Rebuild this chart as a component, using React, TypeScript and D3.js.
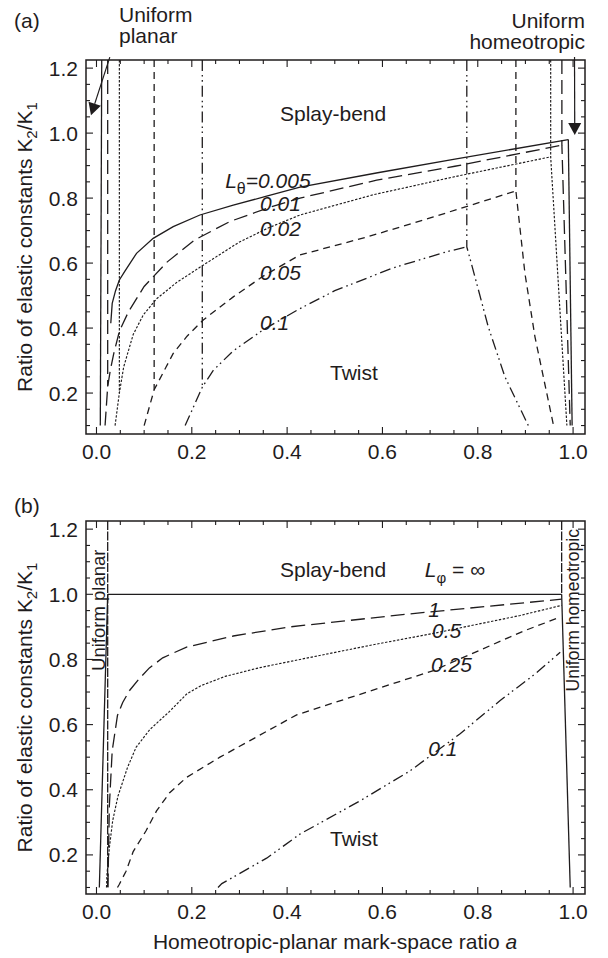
import React from "react";
import * as d3 from "d3";

type Pt = [number, number];

// ---------- panel (a): L_theta families ----------
// L = 0.005 (solid)
const A_005_CURVE: Pt[] = [[0.030, 0.415], [0.033, 0.476], [0.040, 0.515], [0.048, 0.548], [0.060, 0.576], [0.084, 0.630], [0.119, 0.676], [0.161, 0.712], [0.217, 0.748], [0.287, 0.778], [0.357, 0.806], [0.427, 0.834], [0.590, 0.878], [0.752, 0.920], [0.990, 0.980]];
const A_005_LEFT: Pt[] = [[0.011, 1.225], [0.008, 0.1]];
const A_005_RIGHT: Pt[] = [[0.990, 0.980], [0.998, 0.1]];
// L = 0.01 (long dash)
const A_01_CURVE: Pt[] = [[0.018, 0.1], [0.0235, 0.22], [0.029, 0.27], [0.036, 0.32], [0.048, 0.39], [0.067, 0.45], [0.100, 0.528], [0.148, 0.603], [0.207, 0.672], [0.280, 0.728], [0.364, 0.772], [0.427, 0.800], [0.588, 0.855], [0.752, 0.898], [0.9765, 0.963]];
const A_01_LEFT: Pt[] = [[0.0235, 1.225], [0.0235, 0.22]];
const A_01_RIGHT: Pt[] = [[0.9765, 1.225], [0.9765, 0.963], [0.994, 0.1]];
// L = 0.02 (dotted)
const A_02_CURVE: Pt[] = [[0.039, 0.1], [0.048, 0.2], [0.057, 0.28], [0.077, 0.38], [0.098, 0.44], [0.126, 0.49], [0.168, 0.54], [0.220, 0.59], [0.300, 0.665], [0.360, 0.708], [0.427, 0.748], [0.580, 0.810], [0.752, 0.866], [0.953, 0.927]];
const A_02_LEFT: Pt[] = [[0.048, 1.225], [0.048, 0.2]];
const A_02_RIGHT: Pt[] = [[0.953, 1.225], [0.953, 0.927], [0.987, 0.1]];
// L = 0.05 (medium dash)
const A_05_CURVE: Pt[] = [[0.100, 0.1], [0.121, 0.21], [0.146, 0.28], [0.161, 0.322], [0.190, 0.375], [0.224, 0.425], [0.287, 0.496], [0.350, 0.560], [0.427, 0.625], [0.567, 0.680], [0.707, 0.742], [0.880, 0.822]];
const A_05_LEFT: Pt[] = [[0.121, 1.225], [0.121, 0.21]];
const A_05_RIGHT: Pt[] = [[0.880, 1.225], [0.880, 0.822], [0.899, 0.568], [0.920, 0.373], [0.959, 0.1]];
// L = 0.1 (dash-dot-dot)
const A_1_CURVE: Pt[] = [[0.186, 0.1], [0.222, 0.218], [0.245, 0.27], [0.287, 0.33], [0.350, 0.395], [0.427, 0.460], [0.500, 0.515], [0.622, 0.585], [0.735, 0.635], [0.777, 0.650]];
const A_1_LEFT: Pt[] = [[0.222, 1.225], [0.222, 0.218]];
const A_1_RIGHT: Pt[] = [[0.777, 1.225], [0.777, 0.650], [0.794, 0.558], [0.822, 0.404], [0.857, 0.25], [0.906, 0.1]];

// ---------- panel (b): L_phi families ----------
const B_INF_CURVE: Pt[] = [[0.0235, 1.0], [0.976, 1.0]];
const B_INF_LEFT: Pt[] = [[0.0235, 1.0], [0.006, 0.1]];
const B_INF_RIGHT: Pt[] = [[0.976, 1.0], [0.994, 0.1]];
const B_LEFT_EDGE: Pt[] = [[0.0235, 1.225], [0.0235, 0.1]];
const B_RIGHT_EDGE: Pt[] = [[0.976, 1.225], [0.976, 1.0]];
const B_1_CURVE: Pt[] = [[0.024, 0.1], [0.027, 0.35], [0.033, 0.52], [0.044, 0.628], [0.055, 0.668], [0.069, 0.704], [0.088, 0.738], [0.111, 0.774], [0.139, 0.805], [0.189, 0.838], [0.287, 0.872], [0.406, 0.900], [0.658, 0.940], [0.976, 0.985]];
const B_05_CURVE: Pt[] = [[0.021, 0.1], [0.022, 0.14], [0.027, 0.222], [0.034, 0.305], [0.045, 0.38], [0.065, 0.468], [0.083, 0.53], [0.112, 0.585], [0.153, 0.64], [0.190, 0.695], [0.220, 0.72], [0.270, 0.748], [0.343, 0.775], [0.427, 0.800], [0.580, 0.845], [0.707, 0.880], [0.889, 0.935], [0.976, 0.966]];
const B_025_CURVE: Pt[] = [[0.044, 0.1], [0.048, 0.11], [0.062, 0.15], [0.077, 0.21], [0.104, 0.274], [0.126, 0.335], [0.153, 0.39], [0.189, 0.438], [0.259, 0.500], [0.322, 0.551], [0.420, 0.630], [0.707, 0.766], [0.896, 0.887], [0.973, 0.930]];
const B_01_CURVE: Pt[] = [[0.255, 0.1], [0.263, 0.112], [0.357, 0.19], [0.427, 0.264], [0.553, 0.366], [0.658, 0.458], [0.763, 0.572], [0.847, 0.674], [0.920, 0.755], [0.973, 0.822]];

// ---------- axes ----------
const X_DOMAIN: Pt = [-0.022, 1.025];
const Y_DOMAIN_A: Pt = [0.074, 1.225];
const Y_DOMAIN_B: Pt = [0.08, 1.225];
const X_TICK_LABELS = ["0.0", "0.2", "0.4", "0.6", "0.8", "1.0"];
const Y_TICK_LABELS = ["0.2", "0.4", "0.6", "0.8", "1.0", "1.2"];

const DASH: Record<string, string> = {
  solid: "none",
  long: "14,6",
  dot: "2.4,1.6",
  medium: "7,5",
  dashdot: "11,4,1.6,3.5,1.6,4",
  edge: "9,1.5",
};

const FONT = "'Liberation Sans', Arial, Helvetica, sans-serif";
const INK = "#1f1c1d";
const LEFT = 86;
const RIGHT = 585;

type Series = { dash: string; paths: Pt[][] };

const SERIES_A: Series[] = [
  { dash: "solid", paths: [A_005_CURVE, A_005_LEFT, A_005_RIGHT] },
  { dash: "long", paths: [A_01_CURVE, A_01_LEFT, A_01_RIGHT] },
  { dash: "dot", paths: [A_02_CURVE, A_02_LEFT, A_02_RIGHT] },
  { dash: "medium", paths: [A_05_CURVE, A_05_LEFT, A_05_RIGHT] },
  { dash: "dashdot", paths: [A_1_CURVE, A_1_LEFT, A_1_RIGHT] },
];

const SERIES_B: Series[] = [
  { dash: "edge", paths: [B_LEFT_EDGE, B_RIGHT_EDGE] },
  { dash: "solid", paths: [B_INF_CURVE, B_INF_LEFT, B_INF_RIGHT] },
  { dash: "long", paths: [B_1_CURVE] },
  { dash: "dot", paths: [B_05_CURVE] },
  { dash: "medium", paths: [B_025_CURVE] },
  { dash: "dashdot", paths: [B_01_CURVE] },
];

function Arrow({ x1, y1, x2, y2 }: { x1: number; y1: number; x2: number; y2: number }) {
  const dx = x2 - x1, dy = y2 - y1;
  const len = Math.hypot(dx, dy);
  const ux = dx / len, uy = dy / len;
  const hl = 12, hw = 6.5;
  const bx = x2 - ux * hl, by = y2 - uy * hl;
  const head = `${x2},${y2} ${bx - uy * hw},${by + ux * hw} ${bx + uy * hw},${by - ux * hw}`;
  return (
    <g>
      <line x1={x1} y1={y1} x2={bx} y2={by} stroke={INK} strokeWidth={1.2} />
      <polygon points={head} fill={INK} />
    </g>
  );
}

function Panel({ top, bottom, yDomain, series, children }: {
  top: number; bottom: number; yDomain: Pt; series: Series[];
  children: (x: d3.ScaleLinear<number, number>, y: d3.ScaleLinear<number, number>) => React.ReactNode;
}) {
  const x = d3.scaleLinear().domain(X_DOMAIN).range([LEFT, RIGHT]);
  const y = d3.scaleLinear().domain(yDomain).range([bottom, top]);
  const line = d3.line<Pt>().x((d) => x(d[0])).y((d) => y(d[1]));

  const xTicks = d3.range(0, 21).map((i) => i * 0.05);
  const yTicks = d3.range(2, 25).map((i) => i * 0.05);
  const isMajor = (v: number) => Math.abs(v / 0.2 - Math.round(v / 0.2)) < 1e-6;

  return (
    <g>
      <defs>
        <clipPath id={`clip${top}`}>
          <rect x={LEFT} y={top} width={RIGHT - LEFT} height={bottom - top} />
        </clipPath>
      </defs>
      <g clipPath={`url(#clip${top})`}>
        {series.map((s, i) =>
          s.paths.map((p, j) => (
            <path
              key={`${i}-${j}`}
              d={line(p) || ""}
              fill="none"
              stroke={INK}
              strokeWidth={s.dash === "dot" ? 1.15 : 1.3}
              strokeDasharray={DASH[s.dash]}
            />
          ))
        )}
      </g>
      {/* ticks on all four sides */}
      {xTicks.map((v) => {
        const l = isMajor(v) ? 7 : 4;
        return (
          <g key={`xt${v}`} stroke={INK} strokeWidth={1.1}>
            <line x1={x(v)} x2={x(v)} y1={bottom} y2={bottom - l} />
            <line x1={x(v)} x2={x(v)} y1={top} y2={top + l} />
          </g>
        );
      })}
      {yTicks.map((v) => {
        const l = isMajor(v) ? 7 : 4;
        return (
          <g key={`yt${v}`} stroke={INK} strokeWidth={1.1}>
            <line x1={LEFT} x2={LEFT + l} y1={y(v)} y2={y(v)} />
            <line x1={RIGHT} x2={RIGHT - l} y1={y(v)} y2={y(v)} />
          </g>
        );
      })}
      <rect x={LEFT} y={top} width={RIGHT - LEFT} height={bottom - top} fill="none" stroke={INK} strokeWidth={1.5} />
      {X_TICK_LABELS.map((t) => (
        <text key={`xl${t}`} x={x(+t)} y={bottom + 25} textAnchor="middle" fontSize={21} fill={INK}>
          {t}
        </text>
      ))}
      {Y_TICK_LABELS.map((t) => (
        <text key={`yl${t}`} x={78} y={y(+t)} dy="0.36em" textAnchor="end" fontSize={21} fill={INK}>
          {t}
        </text>
      ))}
      <text transform={`translate(32,${(top + bottom) / 2}) rotate(-90)`} textAnchor="middle" fontSize={21} fill={INK}>
        Ratio of elastic constants K<tspan dy={5} fontSize={15}>2</tspan>
        <tspan dy={-5}>/K</tspan>
        <tspan dy={5} fontSize={15}>1</tspan>
      </text>
      {children(x, y)}
    </g>
  );
}

export default function App() {
  return (
    <svg
      width={608}
      height={958}
      style={{ position: "absolute", left: 0, top: 0, background: "#fff" }}
      fontFamily={FONT}
    >
      <rect width={608} height={958} fill="#fff" />
      <Panel top={60} bottom={434} yDomain={Y_DOMAIN_A} series={SERIES_A}>
        {(x, y) => (
          <g fill={INK} fontSize={21}>
            <text x={14} y={28}>(a)</text>
            <text x={119} y={22}>Uniform</text>
            <text x={119} y={43}>planar</text>
            <text x={585} y={27.5} textAnchor="end">Uniform</text>
            <text x={585} y={49} textAnchor="end">homeotropic</text>
            <Arrow x1={x(0.028)} y1={y(1.234)} x2={x(-0.0115)} y2={y(1.055)} />
            <Arrow x1={x(1.003)} y1={y(1.234)} x2={x(1.0035)} y2={y(0.994)} />
            <text x={x(0.385)} y={y(1.037)}>Splay-bend</text>
            <text x={x(0.27)} y={y(0.83)} fontStyle="italic">
              L<tspan dy={6} fontSize={16} fontStyle="normal">θ</tspan>
              <tspan dy={-6}>=0.005</tspan>
            </text>
            <text x={x(0.343)} y={y(0.76)} fontStyle="italic">0.01</text>
            <text x={x(0.343)} y={y(0.683)} fontStyle="italic">0.02</text>
            <text x={x(0.343)} y={y(0.548)} fontStyle="italic">0.05</text>
            <text x={x(0.343)} y={y(0.394)} fontStyle="italic">0.1</text>
            <text x={x(0.49)} y={y(0.24)}>Twist</text>
          </g>
        )}
      </Panel>
      <Panel top={521} bottom={894} yDomain={Y_DOMAIN_B} series={SERIES_B}>
        {(x, y) => (
          <g fill={INK} fontSize={21}>
            <text x={14} y={513}>(b)</text>
            <text x={x(0.385)} y={y(1.052)}>Splay-bend</text>
            <text x={x(0.689)} y={y(1.052)}>
              <tspan fontStyle="italic">L</tspan>
              <tspan dy={6} fontSize={15}>φ</tspan>
              <tspan dy={-6}> = ∞</tspan>
            </text>
            <text x={x(0.696)} y={y(0.929)} fontStyle="italic">1</text>
            <text x={x(0.704)} y={y(0.865)} fontStyle="italic">0.5</text>
            <text x={x(0.702)} y={y(0.76)} fontStyle="italic">0.25</text>
            <text x={x(0.696)} y={y(0.505)} fontStyle="italic">0.1</text>
            <text x={x(0.49)} y={y(0.228)}>Twist</text>
            <text transform={`translate(105,${y(0.951)}) rotate(-90)`} textAnchor="middle" fontSize={18.5}>
              Uniform planar
            </text>
            <text transform={`translate(579,${y(0.951)}) rotate(-90)`} textAnchor="middle" fontSize={17.5}>
              Uniform homeotropic
            </text>
          </g>
        )}
      </Panel>
      <text x={335} y={949} textAnchor="middle" fontSize={21} fill={INK}>
        Homeotropic-planar mark-space ratio <tspan fontStyle="italic">a</tspan>
      </text>
    </svg>
  );
}
